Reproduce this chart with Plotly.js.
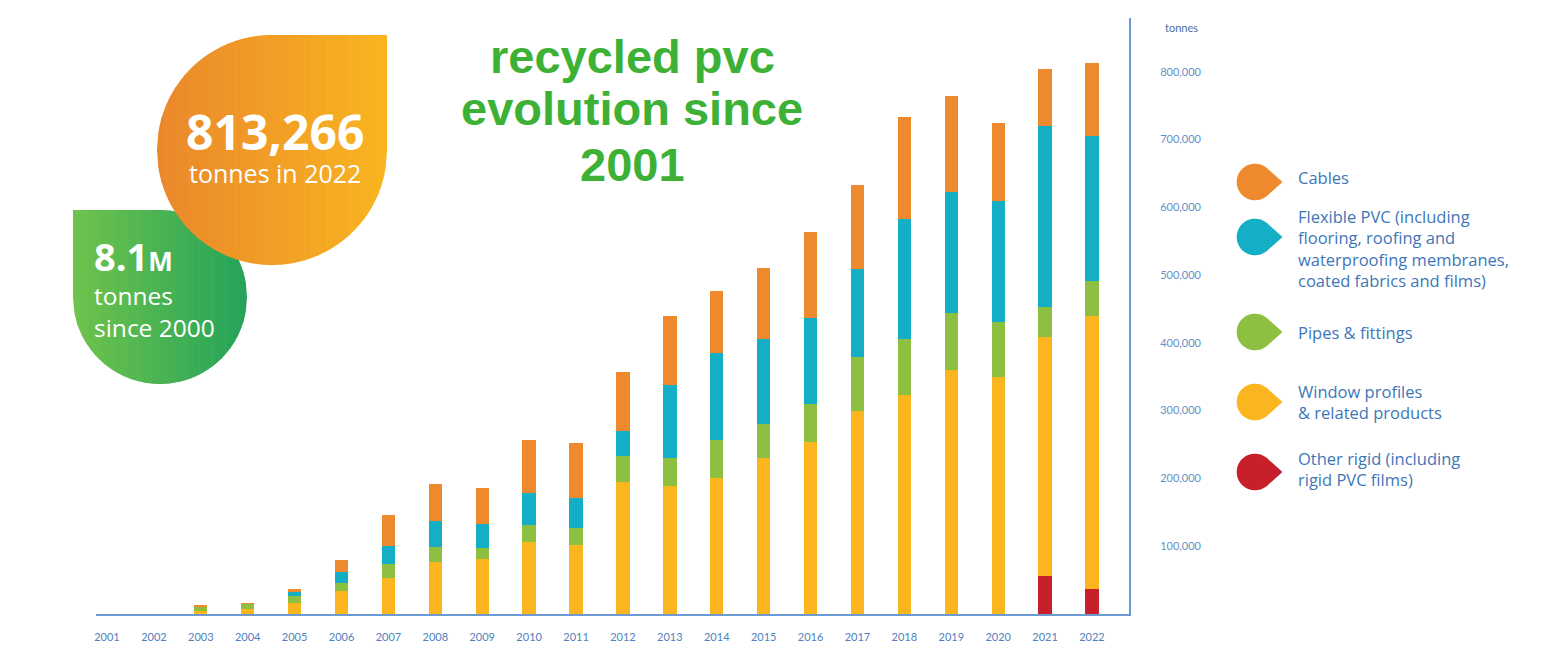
<!DOCTYPE html>
<html>
<head>
<meta charset="utf-8">
<script src="https://cdn.plot.ly/plotly-3.0.1.min.js"></script>
<style>
  body { margin: 0; background: #fff; }
  #chart { width: 1550px; height: 650px; }
</style>
</head>
<body>
<div id="chart"></div>
<script>
// recycled PVC per application, tonnes
var years = ['2001', '2002', '2003', '2004', '2005', '2006', '2007', '2008', '2009', '2010', '2011',
	'2012', '2013', '2014', '2015', '2016', '2017', '2018', '2019', '2020', '2021', '2022'];

var otherRigid = [0, 0, 0, 0, 0, 0, 0, 0, 0, 0, 0,
	0, 0, 0, 0, 0, 0, 0, 0, 0, 56100, 36400];
var windowProfiles = [0, 0, 4000, 7000, 16700, 33900, 53500, 77200, 80700, 106200, 101800,
	195200, 189300, 201100, 230600, 254200, 299500, 322600, 359500, 349200, 352100, 403600];
var pipes = [0, 0, 7000, 7500, 9900, 11400, 20200, 22100, 17300, 25100, 25100,
	38400, 40300, 55200, 49300, 56100, 80100, 82600, 84500, 82000, 45100, 50700];
var flexible = [0, 0, 0, 0, 6300, 16200, 27000, 37900, 35000, 46800, 43800,
	36400, 108100, 128300, 125400, 126900, 128900, 177500, 178100, 178500, 266600, 214300];
var cables = [0, 0, 1900, 1500, 3400, 18100, 45300, 54100, 53500, 78600, 82200,
	87500, 101800, 91900, 105200, 126000, 124800, 150900, 142100, 115100, 84100, 108100];

var yTicks = [100000, 200000, 300000, 400000, 500000, 600000, 700000, 800000];

// legend, top to bottom
var legendNames = ['Cables',
	'Flexible PVC (including<br>flooring, roofing and<br>waterproofing membranes,<br>coated fabrics and films)',
	'Pipes &amp; fittings',
	'Window profiles<br>&amp; related products',
	'Other rigid (including<br>rigid PVC films)'];
var legendColors = ['#ee8a2d', '#14afc6', '#8dbf41', '#fbb61f', '#c7202b'];

// plot area in page pixels, used to place the decorations
var PL = 96, PT = 18, PW = 1033, PH = 596;
function ppx(x) { return (x - PL) / PW; }
function ppy(y) { return (PT + PH - y) / PH; }

function arc(cx, cy, r, a0, a1, n) {
	var pts = [];
	for (var i = 0; i <= n; i++) {
		var a = a0 + (a1 - a0) * i / n;
		pts.push([cx + r * Math.cos(a), cy + r * Math.sin(a)]);
	}
	return pts;
}

function pathFrom(pts) {
	return 'M' + pts.map(function (p) {
		return ppx(p[0]).toFixed(5) + ',' + ppy(p[1]).toFixed(5);
	}).join('L') + 'Z';
}

function droplet(cx, cy, r) {
	var th = Math.acos(1 / 1.5);
	return pathFrom([[cx + 1.5 * r, cy]].concat(arc(cx, cy, r, th, 2 * Math.PI - th, 40)));
}

function mix(c0, c1, t) {
	var a = parseInt(c0.slice(1), 16), b = parseInt(c1.slice(1), 16);
	var out = [16, 8, 0].map(function (s) {
		var u = (a >> s) & 255, v = (b >> s) & 255;
		return Math.round(u + (v - u) * t);
	});
	return 'rgb(' + out.join(',') + ')';
}

// leaf shaped badge: a circle with one square corner, filled with a left-to-right gradient
function leaf(cx, cy, r, cornerRight, c0, c1, n) {
	function half(x) { return Math.sqrt(Math.max(0, r * r - (x - cx) * (x - cx))); }
	function top(x) {
		var square = cornerRight ? x >= cx : x <= cx;
		return square ? cy - r : cy - half(x);
	}
	function bot(x) { return cy + half(x); }
	var out = [];
	for (var i = 0; i < n; i++) {
		var xa = cx - r + 2 * r * i / n, xb = Math.min(cx + r, cx - r + 2 * r * (i + 1) / n + 0.6);
		var up = [], down = [];
		for (var k = 0; k <= 4; k++) {
			var x = xa + (xb - xa) * k / 4;
			up.push([x, top(x)]);
			down.unshift([x, bot(x)]);
		}
		out.push({type: 'path', xref: 'paper', yref: 'paper', line: {width: 0},
			fillcolor: mix(c0, c1, (i + 0.5) / n), path: pathFrom(up.concat(down))});
	}
	return out;
}

function bars(vals, name, color) {
	return {
		x: years,
		y: vals,
		type: 'bar',
		name: name,
		marker: {color: color, line: {width: 0}},
		showlegend: false
	};
}

var data = [
	bars(otherRigid, 'Other rigid', legendColors[4]),
	bars(windowProfiles, 'Window profiles', legendColors[3]),
	bars(pipes, 'Pipes & fittings', legendColors[2]),
	bars(flexible, 'Flexible PVC', legendColors[1]),
	bars(cables, 'Cables', legendColors[0])
];

var blue = '#4f80bd';

var shapes = leaf(160, 297, 87, false, '#6fc34b', '#24a35a', 40)
	.concat(leaf(272, 150, 115, true, '#ea872b', '#f9b520', 50));

var dropY = [182, 237, 332, 402, 472];
var textY = [177, 249, 332, 402, 469];

var annotations = [
	{text: 'recycled pvc', x: ppx(632), y: ppy(57)},
	{text: 'evolution since', x: ppx(632), y: ppy(109)},
	{text: '2001', x: ppx(632), y: ppy(165)}
].map(function (a) {
	a.font = {family: 'Liberation Sans, Arial', size: 47, color: '#3db135', weight: 'bold'};
	return a;
});

annotations.push(
	{text: '<b style="font-size:48px">813,266</b><br>tonnes in 2022', x: ppx(275), y: ppy(144),
		font: {family: 'Open Sans', size: 25, color: '#fff'}},
	{text: '<b>8.1</b><b style="font-size:26px">M</b>', x: ppx(92), y: ppy(256), xanchor: 'left',
		font: {family: 'Open Sans', size: 38, color: '#fff'}},
	{text: 'tonnes<br>since 2000', x: ppx(92), y: ppy(311), xanchor: 'left', align: 'left',
		font: {family: 'Open Sans', size: 24.5, color: '#fff'}},
	{text: 'tonnes', x: ppx(1181), y: ppy(27),
		font: {family: 'Lato', size: 11, color: '#4a6f9c'}}
);

for (var i = 0; i < legendNames.length; i++) {
	shapes.push({type: 'path', xref: 'paper', yref: 'paper', line: {width: 0},
		fillcolor: legendColors[i], path: droplet(1255, dropY[i], 18.3)});
	annotations.push({text: legendNames[i], x: ppx(1296), y: ppy(textY[i]),
		xanchor: 'left', align: 'left',
		font: {family: 'Open Sans', size: 16.5, color: '#3d76b8'}});
}

annotations.forEach(function (a) {
	a.xref = 'paper';
	a.yref = 'paper';
	a.showarrow = false;
	if (!a.xanchor) a.xanchor = 'center';
	a.yanchor = 'middle';
});

var layout = {
	width: 1550,
	height: 650,
	margin: {l: PL, r: 1550 - PL - PW, t: PT, b: 650 - PT - PH, pad: 0},
	paper_bgcolor: '#fff',
	plot_bgcolor: '#fff',
	barmode: 'stack',
	bargap: 0.716,
	showlegend: false,
	xaxis: {
		type: 'category',
		range: [-0.2345, 21.789],
		showgrid: false,
		showline: true,
		linecolor: '#6d9ad0',
		linewidth: 2,
		ticks: '',
		ticklabelstandoff: 12,
		tickfont: {family: 'Lato', size: 11, color: blue}
	},
	yaxis: {
		side: 'right',
		range: [0, 879200],
		showgrid: false,
		zeroline: false,
		showline: true,
		linecolor: '#6d9ad0',
		linewidth: 2,
		ticks: '',
		tickvals: yTicks,
		tickformat: ',',
		ticklabelstandoff: 27,
		tickfont: {family: 'Lato', size: 11, color: '#6590c6'}
	},
	shapes: shapes,
	annotations: annotations
};

Plotly.newPlot('chart', data, layout, {displayModeBar: false, staticPlot: true});
</script>
</body>
</html>
